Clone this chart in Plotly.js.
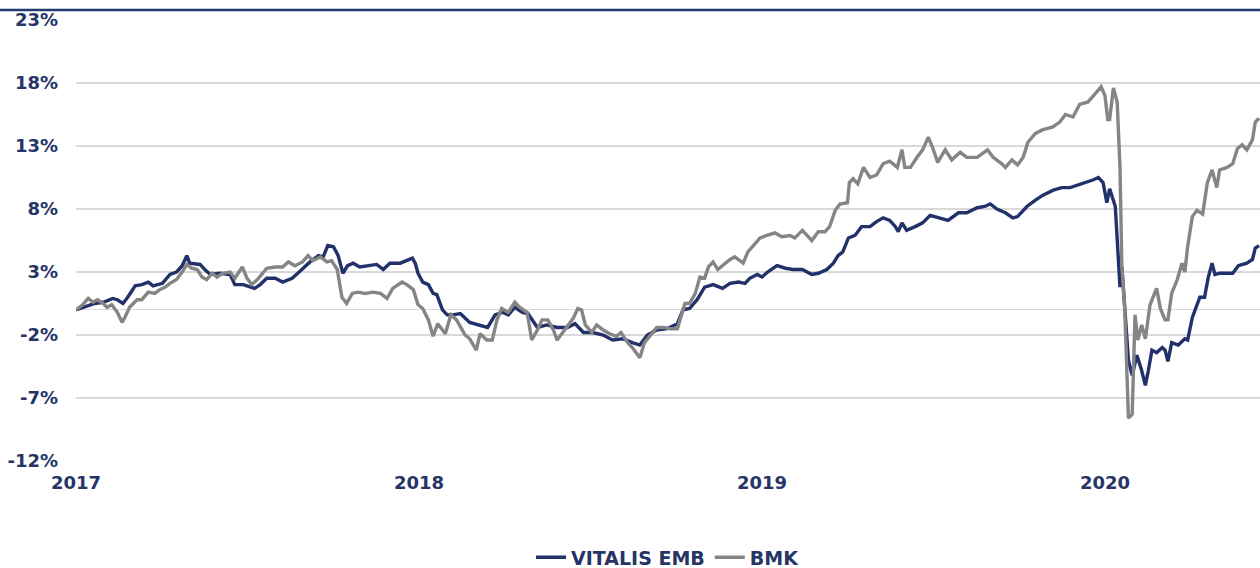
<!DOCTYPE html>
<html>
<head>
<meta charset="utf-8">
<script src="https://cdn.plot.ly/plotly-3.0.1.min.js"></script>
<style>
html, body { margin: 0; padding: 0; background: #ffffff; }
#chart { width: 1260px; height: 568px; }
</style>
</head>
<body>
<div id="chart"></div>
<script>
// ---- Data (cumulative performance, %) ----
const vitalisDates = [
"2017-01-01","2017-01-13","2017-01-21","2017-01-30","2017-02-09","2017-02-14","2017-02-20","2017-02-25","2017-03-05","2017-03-12",
"2017-03-19","2017-03-24","2017-04-03","2017-04-11","2017-04-18","2017-04-24","2017-04-29","2017-05-02","2017-05-13","2017-05-18",
"2017-05-24","2017-06-03","2017-06-14","2017-06-19","2017-06-28","2017-07-10","2017-07-16","2017-07-23","2017-08-01","2017-08-09",
"2017-08-19","2017-08-25","2017-08-31","2017-09-07","2017-09-16","2017-09-21","2017-09-26","2017-10-02","2017-10-07","2017-10-12",
"2017-10-17","2017-10-23","2017-10-30","2017-11-08","2017-11-17","2017-11-24","2017-12-01","2017-12-12","2017-12-19","2017-12-25",
"2017-12-28","2017-12-31","2018-01-05","2018-01-11","2018-01-16","2018-01-20","2018-01-26","2018-01-31","2018-02-06","2018-02-14",
"2018-02-24","2018-03-05","2018-03-15","2018-03-23","2018-03-31","2018-04-06","2018-04-13","2018-04-21","2018-04-27","2018-05-07",
"2018-05-17","2018-05-28","2018-06-08","2018-06-16","2018-06-25","2018-07-05","2018-07-16","2018-07-26","2018-08-06","2018-08-16",
"2018-08-24","2018-09-01","2018-09-11","2018-09-22","2018-10-03","2018-10-09","2018-10-16","2018-10-24","2018-11-01","2018-11-10",
"2018-11-20","2018-11-28","2018-12-07","2018-12-14","2018-12-19","2018-12-27","2019-01-01","2019-01-07","2019-01-17","2019-01-26",
"2019-02-03","2019-02-13","2019-02-23","2019-03-02","2019-03-11","2019-03-18","2019-03-23","2019-03-28","2019-04-03","2019-04-10",
"2019-04-17","2019-04-26","2019-05-03","2019-05-10","2019-05-17","2019-05-23","2019-05-26","2019-05-30","2019-06-04","2019-06-13",
"2019-06-21","2019-06-29","2019-07-09","2019-07-18","2019-07-29","2019-08-07","2019-08-18","2019-08-26","2019-09-01","2019-09-08",
"2019-09-17","2019-09-25","2019-09-30","2019-10-10","2019-10-19","2019-10-27","2019-11-07","2019-11-16","2019-11-25","2019-12-03",
"2019-12-13","2019-12-19","2019-12-25","2019-12-30","2020-01-03","2020-01-06","2020-01-12","2020-01-14","2020-01-17","2020-01-19",
"2020-01-22","2020-01-26","2020-01-30","2020-02-04","2020-02-09","2020-02-13","2020-02-16","2020-02-20","2020-02-25","2020-03-02",
"2020-03-05","2020-03-08","2020-03-12","2020-03-19","2020-03-26","2020-03-29","2020-04-03","2020-04-08","2020-04-11","2020-04-16",
"2020-04-20","2020-04-24","2020-04-27","2020-05-02","2020-05-11","2020-05-16","2020-05-22","2020-05-31","2020-06-06","2020-06-09",
"2020-06-13"
];
const vitalisValues = [
0.0,0.3,0.5,0.6,0.9,0.8,0.5,1.0,1.9,2.0,
2.2,1.9,2.1,2.8,3.0,3.5,4.3,3.7,3.6,3.2,
2.8,2.9,2.8,2.0,2.0,1.7,2.0,2.5,2.5,2.2,
2.5,2.9,3.3,3.8,4.3,4.2,5.1,5.0,4.3,2.9,
3.5,3.7,3.4,3.5,3.6,3.2,3.7,3.7,3.9,4.1,
3.7,2.9,2.2,2.0,1.3,1.2,0.0,-0.4,-0.4,-0.3,
-1.0,-1.2,-1.4,-0.4,-0.2,-0.4,0.2,-0.2,-0.3,-1.4,
-1.2,-1.4,-1.4,-1.1,-1.8,-1.8,-2.0,-2.4,-2.3,-2.6,
-2.8,-2.0,-1.6,-1.5,-1.1,0.0,0.1,0.8,1.8,2.0,
1.7,2.1,2.2,2.1,2.5,2.8,2.6,3.0,3.5,3.3,
3.2,3.2,2.8,2.9,3.2,3.7,4.3,4.6,5.7,5.9,
6.6,6.6,7.0,7.3,7.1,6.6,6.2,6.9,6.3,6.6,
6.9,7.5,7.3,7.1,7.7,7.7,8.1,8.2,8.4,8.0,
7.7,7.3,7.4,8.2,8.7,9.1,9.5,9.7,9.7,9.9,
10.1,10.3,10.5,10.1,8.5,9.6,8.2,5.5,1.8,3.4,
0.0,-4.0,-5.2,-3.6,-4.8,-6.0,-4.9,-3.2,-3.4,-3.0,
-3.2,-4.1,-2.6,-2.8,-2.3,-2.4,-0.6,0.4,1.0,1.0,
2.6,3.7,2.8,2.9,2.9,2.9,3.5,3.7,4.0,4.9,
5.1
];

const bmkDates = [
"2017-01-01","2017-01-08","2017-01-14","2017-01-19","2017-01-24","2017-01-30","2017-02-03","2017-02-08","2017-02-14","2017-02-19",
"2017-02-22","2017-02-27","2017-03-07","2017-03-12","2017-03-19","2017-03-26","2017-03-31","2017-04-06","2017-04-11","2017-04-18",
"2017-04-24","2017-04-29","2017-05-04","2017-05-10","2017-05-15","2017-05-20","2017-05-26","2017-05-31","2017-06-06","2017-06-14",
"2017-06-19","2017-06-27","2017-07-02","2017-07-07","2017-07-13","2017-07-19","2017-07-23","2017-08-01","2017-08-09","2017-08-15",
"2017-08-22","2017-08-30","2017-09-05","2017-09-10","2017-09-18","2017-09-25","2017-09-30","2017-10-06","2017-10-11","2017-10-16",
"2017-10-22","2017-10-28","2017-11-05","2017-11-13","2017-11-21","2017-11-28","2017-12-04","2017-12-14","2017-12-19","2017-12-26",
"2017-12-31","2018-01-05","2018-01-11","2018-01-16","2018-01-21","2018-01-29","2018-02-04","2018-02-10","2018-02-19","2018-02-24",
"2018-03-03","2018-03-07","2018-03-14","2018-03-20","2018-03-25","2018-03-30","2018-04-06","2018-04-13","2018-04-18","2018-04-26",
"2018-05-01","2018-05-07","2018-05-12","2018-05-18","2018-05-24","2018-05-28","2018-06-03","2018-06-09","2018-06-14","2018-06-19",
"2018-06-23","2018-06-27","2018-07-04","2018-07-09","2018-07-16","2018-07-23","2018-07-30","2018-08-04","2018-08-11","2018-08-16",
"2018-08-24","2018-08-29","2018-09-04","2018-09-11","2018-09-18","2018-09-25","2018-10-03","2018-10-08","2018-10-11","2018-10-16",
"2018-10-22","2018-10-27","2018-11-01","2018-11-05","2018-11-10","2018-11-15","2018-11-21","2018-11-28","2018-12-03","2018-12-12",
"2018-12-17","2018-12-25","2018-12-30","2019-01-06","2019-01-15","2019-01-22","2019-01-31","2019-02-05","2019-02-13","2019-02-18",
"2019-02-23","2019-03-02","2019-03-09","2019-03-14","2019-03-20","2019-03-25","2019-04-02","2019-04-04","2019-04-08","2019-04-13",
"2019-04-19","2019-04-26","2019-05-03","2019-05-10","2019-05-17","2019-05-25","2019-05-30","2019-06-02","2019-06-08","2019-06-15",
"2019-06-21","2019-06-27","2019-07-02","2019-07-07","2019-07-15","2019-07-22","2019-07-31","2019-08-07","2019-08-18","2019-08-29",
"2019-09-04","2019-09-13","2019-09-17","2019-09-24","2019-09-30","2019-10-06","2019-10-11","2019-10-19","2019-10-27","2019-11-06",
"2019-11-14","2019-11-20","2019-11-28","2019-12-05","2019-12-14","2019-12-21","2019-12-28","2020-01-01","2020-01-04","2020-01-06",
"2020-01-10","2020-01-14","2020-01-17","2020-01-19","2020-01-22","2020-01-26","2020-01-30","2020-02-02","2020-02-05","2020-02-09",
"2020-02-13","2020-02-18","2020-02-23","2020-02-25","2020-02-29","2020-03-05","2020-03-08","2020-03-12","2020-03-18","2020-03-23",
"2020-03-26","2020-03-29","2020-04-03","2020-04-08","2020-04-14","2020-04-19","2020-04-24","2020-04-29","2020-05-02","2020-05-10",
"2020-05-16","2020-05-21","2020-05-26","2020-05-31","2020-06-06","2020-06-09","2020-06-13"
];
const bmkValues = [
0.0,0.4,0.9,0.6,0.8,0.5,0.2,0.4,-0.2,-1.0,
-0.6,0.2,0.8,0.8,1.4,1.3,1.6,1.8,2.1,2.4,
3.0,3.6,3.3,3.2,2.6,2.4,2.9,2.6,2.9,3.0,
2.5,3.4,2.5,2.0,2.4,3.0,3.3,3.4,3.4,3.8,
3.5,3.8,4.3,3.9,4.2,3.8,3.9,3.2,1.0,0.5,
1.3,1.4,1.3,1.4,1.3,0.9,1.7,2.2,2.0,1.6,
0.4,0.1,-0.8,-2.1,-1.1,-1.9,-0.4,-0.8,-2.0,-2.3,
-3.2,-1.9,-2.4,-2.4,-0.8,0.1,-0.2,0.6,0.2,-0.2,
-2.4,-1.6,-0.8,-0.8,-1.6,-2.4,-1.8,-1.2,-0.7,0.1,
0.0,-1.2,-1.8,-1.2,-1.6,-1.9,-2.1,-1.8,-2.6,-3.0,
-3.8,-2.6,-2.0,-1.4,-1.4,-1.5,-1.5,-0.3,0.5,0.5,
1.3,2.6,2.5,3.4,3.8,3.2,3.6,4.0,4.2,3.7,
4.6,5.3,5.7,5.9,6.1,5.8,5.9,5.7,6.3,5.9,
5.5,6.2,6.2,6.6,7.9,8.4,8.5,10.1,10.4,10.0,
11.3,10.5,10.7,11.6,11.8,11.3,12.7,11.3,11.3,12.1,
12.7,13.7,12.8,11.7,12.7,11.9,12.5,12.1,12.1,12.7,
12.1,11.6,11.3,11.9,11.5,12.1,13.3,14.0,14.3,14.5,
14.9,15.5,15.3,16.3,16.5,17.1,17.7,17.0,15.1,15.1,
17.6,16.5,11.3,3.4,0.2,-8.6,-8.3,-0.4,-2.4,-1.2,
-2.3,0.4,1.3,1.7,0.1,-0.8,-0.8,1.3,2.4,3.7,
3.0,5.0,7.4,7.9,7.6,10.1,11.1,9.7,11.1,11.3,
11.6,12.8,13.1,12.7,13.5,14.9,15.2
];

const seriesNames = ["VITALIS EMB", "BMK"];
const yTickVals = [-12, -7, -2, 3, 8, 13, 18, 23];
const yTickText = ["-12%", "-7%", "-2%", "3%", "8%", "13%", "18%", "23%"];
const xTickVals = ["2017-01-01", "2018-01-01", "2019-01-01", "2020-01-01"];
const xTickText = ["2017", "2018", "2019", "2020"];

// ---- Styling ----
const NAVY = "#22316a";
const GREY = "#858585";
const TEXT = "#263466";
const FONT = { family: "DejaVu Sans, Arial, sans-serif", size: 18, color: TEXT, weight: "bold" };
const LEGEND_FONT = { family: "DejaVu Sans, Arial, sans-serif", size: 19, color: TEXT, weight: "bold" };

const traces = [
  { x: vitalisDates, y: vitalisValues, name: seriesNames[0], type: "scatter", mode: "lines",
    line: { color: NAVY, width: 3.4 } },
  { x: bmkDates, y: bmkValues, name: seriesNames[1], type: "scatter", mode: "lines",
    line: { color: GREY, width: 3.4 } }
];

const layout = {
  width: 1260, height: 568,
  margin: { l: 76, r: 0, t: 20, b: 107, pad: 0, autoexpand: false },
  paper_bgcolor: "#ffffff", plot_bgcolor: "#ffffff",
  font: FONT,
  showlegend: true,
  legend: { orientation: "h", x: 0.5, xanchor: "center", yref: "container", y: 0.052, yanchor: "top",
            font: LEGEND_FONT, bgcolor: "rgba(0,0,0,0)", traceorder: "normal" },
  xaxis: {
    type: "date", range: ["2017-01-01", "2020-06-14"], automargin: false,
    tickmode: "array", tickvals: xTickVals, ticktext: xTickText,
    showgrid: false, zeroline: false, showline: false, ticks: "",
    ticklabelstandoff: 9, tickfont: FONT, fixedrange: true
  },
  yaxis: {
    range: [-12, 23], automargin: false, tickmode: "array", tickvals: yTickVals, ticktext: yTickText,
    showgrid: true, gridcolor: "#d9d9d9", gridwidth: 1.3,
    zeroline: true, zerolinecolor: "#d9d9d9", zerolinewidth: 1.3,
    showline: false, ticks: "", ticklabelstandoff: 17, tickfont: FONT, fixedrange: true
  },
  shapes: [
    { type: "line", xref: "paper", yref: "paper", x0: -76/1184, x1: 1, y0: 1 + 10/441, y1: 1 + 10/441,
      line: { color: "#1f3a6b", width: 2.5 } }
  ]
};

Plotly.newPlot("chart", traces, layout, { staticPlot: true, displayModeBar: false });
</script>
</body>
</html>
